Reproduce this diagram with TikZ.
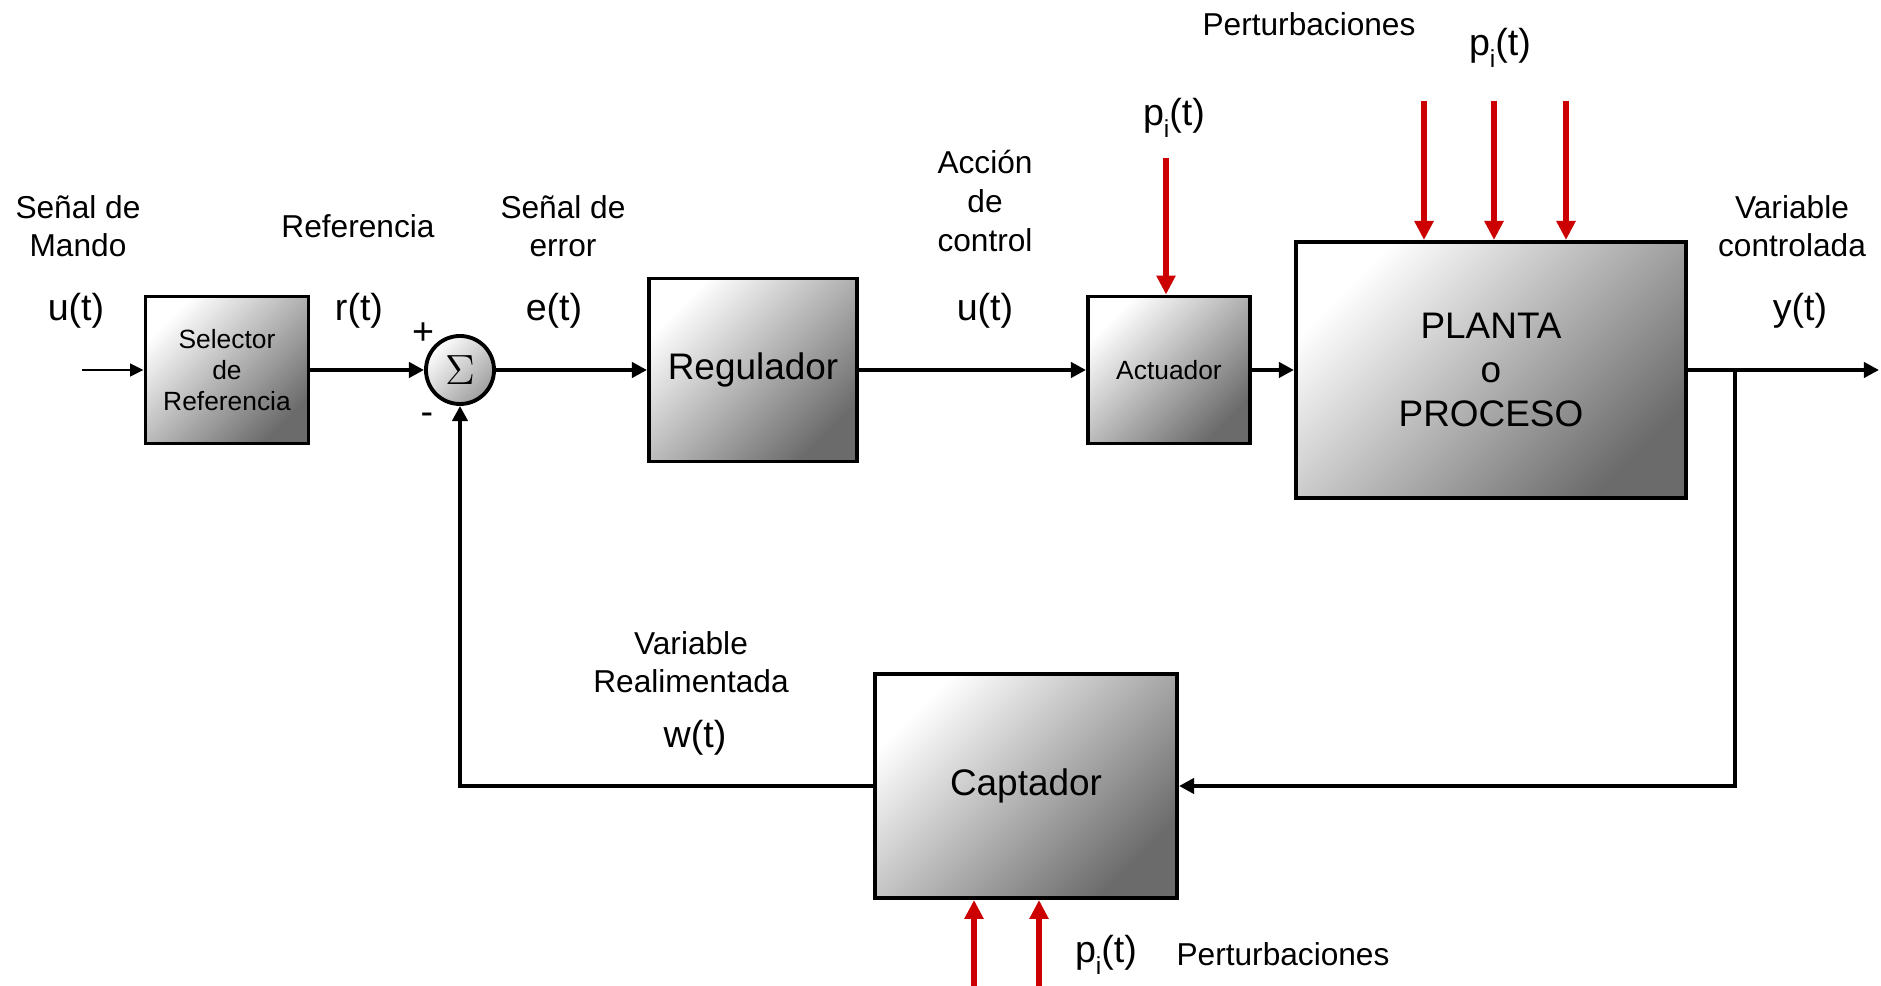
\documentclass[tikz,border=0pt]{standalone}
\usepackage[no-math]{fontspec}
\setmainfont{Liberation Sans}
\usetikzlibrary{arrows.meta}
\definecolor{distred}{RGB}{204,0,0}
\newcommand{\pisub}{p\raisebox{-3.3pt}{\fontsize{7}{8}\selectfont i}(t)}
\tikzset{
  blk/.style={draw, line width=1.1pt, top color=white, bottom color=black!58, shading angle=45, inner sep=0pt, align=center},
  sumc/.style={circle, draw, line width=1.1pt, top color=white, bottom color=black!38, shading angle=45, inner sep=0pt},
  sig/.style={font=\fontsize{10.7}{12}\selectfont},
  lbl/.style={font=\fontsize{9}{10.9}\selectfont, align=center},
  smallbox/.style={font=\fontsize{7.5}{8.9}\selectfont},
  bigbox/.style={font=\fontsize{10.5}{12.6}\selectfont},
  conn/.style={line width=1.1pt, -{Triangle[length=4.3pt,width=4.3pt]}},
  thinconn/.style={line width=0.6pt, -{Triangle[length=3.8pt,width=3.6pt]}},
  dist/.style={draw=distred, line width=1.7pt, -{Triangle[length=5.4pt,width=5.2pt]}},
}
\begin{document}
\begin{tikzpicture}[x=0.01cm,y=-0.01cm]
\useasboundingbox (0,0) rectangle (1881,986);

% blocks
\node[blk, smallbox, minimum width=1.63cm, minimum height=1.47cm] (sel) at (227,370) {Selector\\de\\Referencia};
\node[sumc, minimum size=0.68cm] (sum) at (460,370) {\fontsize{12}{14}\selectfont$\Sigma$};
\node[blk, bigbox, minimum width=2.08cm, minimum height=1.83cm] (reg) at (753,370) {Regulador};
\node[blk, smallbox, minimum width=1.62cm, minimum height=1.47cm] (act) at (1169,370) {Actuador};
\node[blk, bigbox, minimum width=3.90cm, minimum height=2.56cm] (pla) at (1491,370) {PLANTA\\o\\PROCESO};
\node[blk, bigbox, minimum width=3.02cm, minimum height=2.24cm] (cap) at (1026,786) {Captador};

% labels
\node[lbl] (lmando) at (78,226) {Señal de\\Mando};
\node[sig] (su) at (76,311) {u(t)};
\node[lbl] (lref) at (358,226) {Referencia};
\node[sig] (sr) at (359,311) {r(t)};
\node[sig] (plus) at (423,334) {+};
\node[sig] (minus) at (427,419) {-};
\node[lbl] (lerr) at (563,226) {Señal de\\error};
\node[sig] (se) at (554,311) {e(t)};
\node[lbl, font=\fontsize{9}{11.1}\selectfont] (lacc) at (985,201) {Acción\\de\\control};
\node[sig] (su2) at (985,311) {u(t)};
\node[sig] (pa) at (1174,118) {\pisub};
\node[lbl] (lpert) at (1309,24) {Perturbaciones};
\node[sig] (pp) at (1500,48) {\pisub};
\node[lbl] (lcontr) at (1792,226) {Variable\\controlada};
\node[sig] (sy) at (1800,311) {y(t)};
\node[lbl] (lrealim) at (691,662) {Variable\\Realimentada};
\node[sig] (sw) at (695,738) {w(t)};
\node[sig] (pc) at (1106,955) {\pisub};
\node[lbl] (lpert2) at (1283,954) {Perturbaciones};

% coordinates
\coordinate (in) at (82,370);
\coordinate (out) at (1879,370);
\coordinate (br) at (1735,370);
\coordinate (da) at (1166,158);
\coordinate (d1) at (1424,101);
\coordinate (d2) at (1494,101);
\coordinate (d3) at (1566,101);
\coordinate (d4) at (974,986);
\coordinate (d5) at (1039,986);

% connectors
\draw[thinconn] (in) -- (sel.west);
\draw[conn] (sel.east) -- (sum.west);
\draw[conn] (sum.east) -- (reg.west);
\draw[conn] (reg.east) -- (act.west);
\draw[conn] (act.east) -- (pla.west);
\draw[conn] (pla.east) -- (out);
\draw[conn] (br) |- (cap.east);
\draw[conn] (cap.west) -| (sum.south);

% disturbances
\draw[dist] (da) -- (da |- act.north);
\draw[dist] (d1) -- (d1 |- pla.north);
\draw[dist] (d2) -- (d2 |- pla.north);
\draw[dist] (d3) -- (d3 |- pla.north);
\draw[dist] (d4) -- (d4 |- cap.south);
\draw[dist] (d5) -- (d5 |- cap.south);
\end{tikzpicture}
\end{document}
